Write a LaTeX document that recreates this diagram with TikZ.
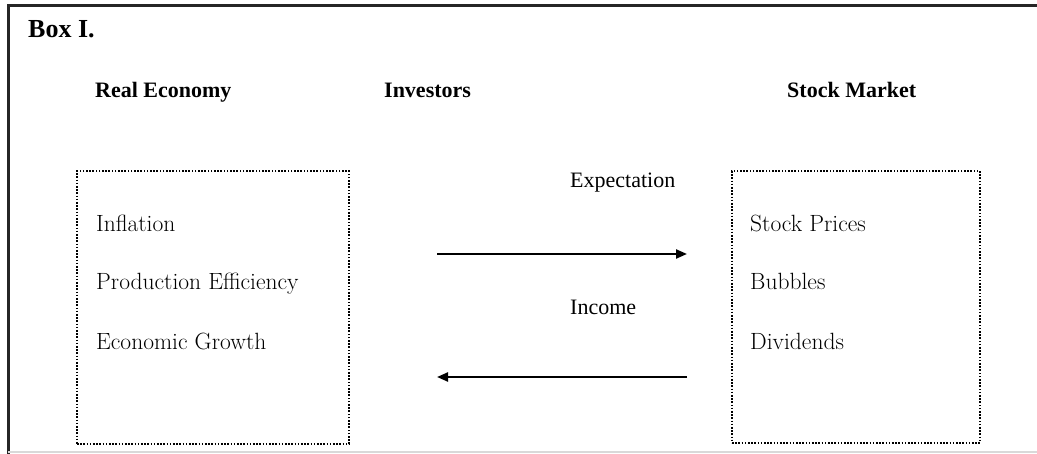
\documentclass[tikz,border=0pt]{standalone}
\usepackage{fontspec}
\newfontfamily\tnr{Liberation Serif}
\usetikzlibrary{arrows.meta}
\tikzset{
  frame/.style={line width=2.4pt, black!85},
  dotbox/.style={draw, line width=1.9pt, dash pattern=on 1.6pt off 1.6pt},
  head/.style={font=\tnr\bfseries\fontsize{22}{24}\selectfont, anchor=base west, inner sep=0pt},
  lbl/.style={font=\tnr\fontsize{22}{24}\selectfont, anchor=base west, inner sep=0pt},
  item/.style={font=\fontsize{23.5}{26}\selectfont, anchor=base west, inner sep=0pt},
  flow/.style={line width=2.2pt, -{Triangle[length=11pt,width=9pt]}}
}
\begin{document}
\begin{tikzpicture}[x=1pt,y=-1pt]
\useasboundingbox (0,0) rectangle (1037,454);
% outer frame
\draw[frame] (8.5,454) -- (8.5,5.5) -- (1037,5.5);
\draw[line width=1.4pt, black!15] (8,452) -- (1037,452);
% titles
\node[font=\tnr\bfseries\fontsize{26}{28}\selectfont, anchor=base west, inner sep=0pt] (box) at (28,38) {Box I.};
\node[head] (re) at (95,98) {Real Economy};
\node[head] (inv) at (384,98) {Investors};
\node[head] (sm) at (787,98) {Stock Market};
% dotted boxes
\node[dotbox, minimum width=272pt, minimum height=273pt, anchor=north west, inner sep=0pt] (lb) at (76,170) {};
\node[dotbox, minimum width=248pt, minimum height=272pt, anchor=north west, inner sep=0pt] (rb) at (731,170) {};
% left items
\node[item] (inf) at (96,232) {Inflation};
\node[item] (pe) at (96,290) {Production Efficiency};
\node[item] (eg) at (96,350) {Economic Growth};
% right items
\node[item] (sp) at (750,232) {Stock Prices};
\node[item] (bu) at (750,290) {Bubbles};
\node[item] (dv) at (750,350) {Dividends};
% arrows
\coordinate (a1s) at (437,254);
\coordinate (a1e) at (687,254);
\coordinate (a2s) at (687,377);
\coordinate (a2e) at (437,377);
\draw[flow] (a1s) -- (a1e);
\draw[flow] (a2s) -- (a2e);
\node[lbl] (exp) at (570,188) {Expectation};
\node[lbl] (inc) at (570,315) {Income};
\end{tikzpicture}
\end{document}
